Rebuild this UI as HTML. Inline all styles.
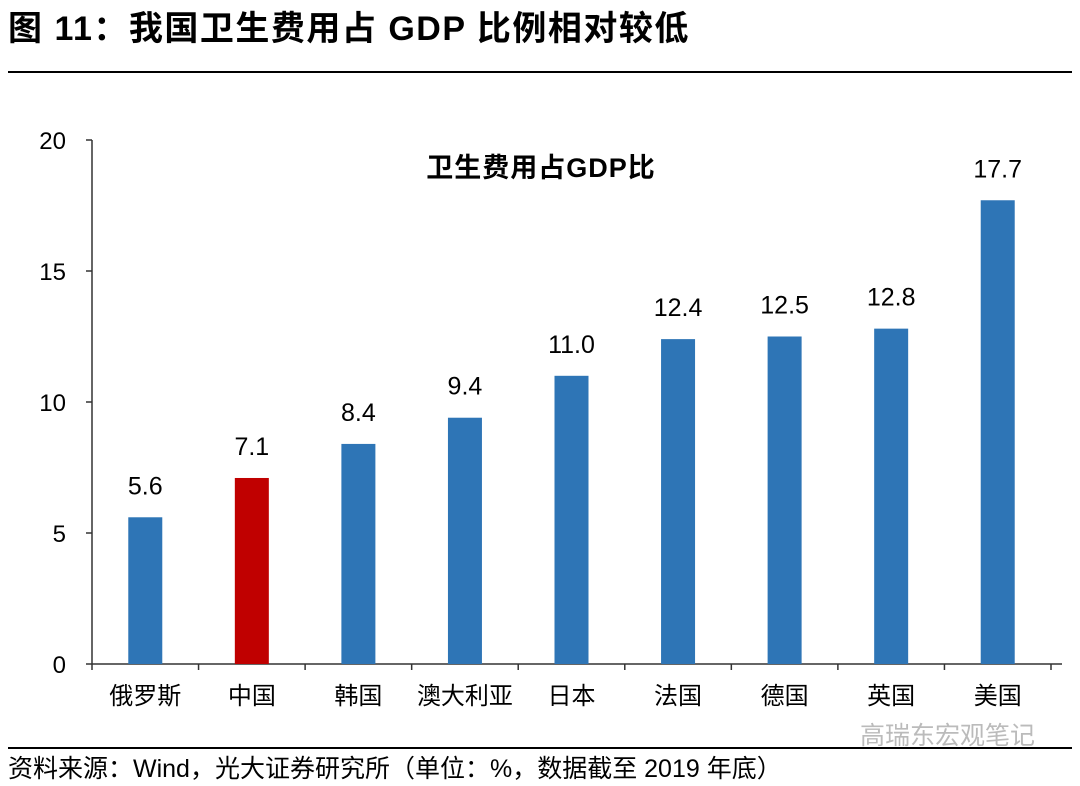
<!DOCTYPE html>
<html><head><meta charset="utf-8"><style>
body{margin:0;background:#fff;width:1080px;height:781px;overflow:hidden;font-family:"Liberation Sans","Noto Sans CJK SC",sans-serif;}
</style></head><body>
<svg width="1080" height="781" id="svg" font-family="Liberation Sans, Noto Sans CJK SC, sans-serif">
<text x="8" y="40" font-size="34" letter-spacing="1.5" font-weight="bold" fill="#000">图 11：我国卫生费用占 GDP 比例相对较低</text>
<line x1="8" y1="72" x2="1072" y2="72" stroke="#000" stroke-width="2"/>
<text x="541" y="177" font-size="27" letter-spacing="1" font-weight="bold" text-anchor="middle">卫生费用占GDP比</text>
<g id="plot"></g>
<line x1="8" y1="748" x2="1072" y2="748" stroke="#000" stroke-width="2"/>
<text x="8" y="777" font-size="25" fill="#000">资料来源：Wind，光大证券研究所（单位：%，数据截至 2019 年底）</text>
<text x="860" y="744" font-size="25" fill="#bbb">高瑞东宏观笔记</text>
</svg>
<script>
const categories=["俄罗斯","中国","韩国","澳大利亚","日本","法国","德国","英国","美国"];
const values=[5.6,7.1,8.4,9.4,11.0,12.4,12.5,12.8,17.7];
const labels=["5.6","7.1","8.4","9.4","11.0","12.4","12.5","12.8","17.7"];
const yTicks=[0,5,10,15,20];
const NS="http://www.w3.org/2000/svg";
const g=document.getElementById('plot');
const x0=92,x1=1051,y0=664,y1=140,ymax=20,axisEnd=1062;
const bw=(x1-x0)/categories.length;
const Y=v=>y0-(v/ymax)*(y0-y1);
const X=i=>x0+bw*(i+0.5);
function mk(t,a){const e=document.createElementNS(NS,t);for(const k in a)e.setAttribute(k,a[k]);g.appendChild(e);return e;}
let ax=mk('line',{x1:x0,y1:y1,x2:x0,y2:y0,stroke:'#333','stroke-width':1.5});


yTicks.forEach(v=>{
 let t=mk('line',{x1:x0-6,x2:x0,y1:Y(v),y2:Y(v),stroke:'#333','stroke-width':1.5});
 
 
 let l=mk('text',{x:x0-26,y:Y(v)+9,'font-size':24,'text-anchor':'end'});l.textContent=v;
 
 
});
let xa=mk('line',{x1:x0,y1:y0,x2:axisEnd,y2:y0,stroke:'#333','stroke-width':1.5});


for(let i=0;i<=categories.length;i++){
 let t=mk('line',{x1:x0+bw*i,x2:x0+bw*i,y1:y0,y2:y0+6,stroke:'#333','stroke-width':1.5});
 
 
}
categories.forEach((c,i)=>{
 let r=mk('rect',{x:X(i)-17,y:Y(values[i]),width:34,height:y0-Y(values[i]),fill:c==="中国"?'#c00000':'#2e75b6'});
 
 
 let v=mk('text',{x:X(i),y:Y(values[i])-23,'font-size':25,'text-anchor':'middle'});v.textContent=labels[i];
 
 
 let l=mk('text',{x:X(i),y:704,'font-size':24,'text-anchor':'middle'});l.textContent=c;
 
 
});
</script>
</body></html>
